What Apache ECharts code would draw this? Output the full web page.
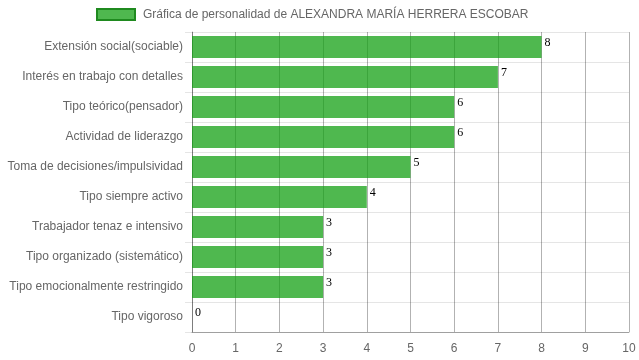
<!DOCTYPE html>
<html>
<head>
<meta charset="utf-8">
<script src="https://cdn.jsdelivr.net/npm/echarts@6/dist/echarts.min.js"></script>
<style>html,body{margin:0;padding:0;background:#fff}#c{width:639px;height:360px}</style>
</head>
<body>
<div id="c"></div>
<script>
const categories = [
  "Extensión social(sociable)",
  "Interés en trabajo con detalles",
  "Tipo teórico(pensador)",
  "Actividad de liderazgo",
  "Toma de decisiones/impulsividad",
  "Tipo siempre activo",
  "Trabajador tenaz e intensivo",
  "Tipo organizado (sistemático)",
  "Tipo emocionalmente restringido",
  "Tipo vigoroso"
];
const values = [8, 7, 6, 6, 5, 4, 3, 3, 3, 0];
const seriesName = "Gráfica de personalidad de ALEXANDRA MARÍA HERRERA ESCOBAR";
const xTicks = [0, 1, 2, 3, 4, 5, 6, 7, 8, 9, 10];

const chart = echarts.init(document.getElementById('c'), null, {renderer: 'canvas'});
chart.setOption({
  animation: false,
  textStyle: {fontFamily: 'Liberation Sans, Arial, sans-serif'},
  legend: {
    left: 91, top: 3,
    itemWidth: 38, itemHeight: 11,
    itemGap: 10,
    icon: 'rect',
    textStyle: {color: '#666', fontSize: 12, padding: [0, 0, 0, 3]},
    itemStyle: {color: 'rgba(20,160,20,0.75)', borderColor: '#1f8a1f', borderWidth: 2},
    data: [seriesName]
  },
  grid: {left: 192, right: 10, top: 32, bottom: 28, containLabel: false},
  xAxis: {
    type: 'value', min: xTicks[0], max: xTicks[xTicks.length - 1], interval: 1,
    axisLine: {show: true, lineStyle: {color: 'rgba(0,0,0,0.3)'}},
    axisTick: {show: false},
    axisLabel: {color: '#666', fontSize: 12, margin: 11},
    splitLine: {show: true, lineStyle: {color: 'rgba(0,0,0,0.3)'}}
  },
  yAxis: {
    type: 'category', data: categories, inverse: true,
    axisLine: {show: true, lineStyle: {color: 'rgba(0,0,0,0.3)'}},
    axisTick: {show: true, length: 7, lineStyle: {color: 'rgba(0,0,0,0.1)'}},
    axisLabel: {color: '#666', fontSize: 12, margin: 9},
    splitLine: {show: true, lineStyle: {color: 'rgba(0,0,0,0.1)'}}
  },
  series: [{
    name: seriesName,
    type: 'bar',
    data: values,
    barCategoryGap: '26%',
    itemStyle: {color: 'rgba(20,160,20,0.75)'},
    label: {
      show: true,
      position: ['100%', 0],
      offset: [3, 1],
      align: 'left', verticalAlign: 'top',
      color: '#000', fontSize: 12,
      fontFamily: 'Liberation Serif, Times New Roman, serif'
    }
  }]
});
</script>
</body>
</html>
